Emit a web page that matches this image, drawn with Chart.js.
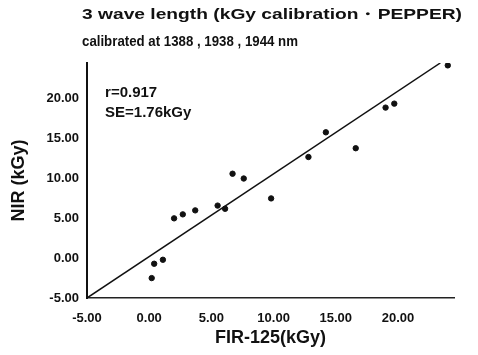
<!DOCTYPE html>
<html><head><meta charset="utf-8">
<script src="https://cdn.jsdelivr.net/npm/chart.js@4"></script>
<style>html,body{margin:0;padding:0;background:#fff}#wrap{width:478px;height:355px}</style>
</head><body><div id="wrap"><canvas id="c" width="478" height="355"></canvas></div>
<script>
const firValues = [0.2, 0.4, 1.1, 2.0, 2.7, 3.7, 5.5, 6.1, 6.7, 7.6, 9.8, 12.8, 14.2, 16.6, 19.0, 19.7, 24.0];
const nirValues = [-2.5, -0.7, -0.2, 5.0, 5.5, 6.0, 6.6, 6.2, 10.6, 10.0, 7.5, 12.7, 15.8, 13.8, 18.9, 19.4, 24.2];
const fitX = [-5, 23.4];
const fitY = [-5, 24.5];
const tickValues = [-5, 0, 5, 10, 15, 20];
const titleLines = ['3 wave length (kGy calibration\u30FBPEPPER)', 'calibrated at 1388 , 1938 , 1944 nm'];
const statLines = ['r=0.917', 'SE=1.76kGy'];
const xTitle = 'FIR-125(kGy)';
const yTitle = 'NIR (kGy)';

const FONT = '"Liberation Sans", Arial, sans-serif';
const pts = firValues.map((x, i) => ({x, y: nirValues[i]}));
const fit = fitX.map((x, i) => ({x, y: fitY[i]}));

function fitText(ctx, text, x, y, width) {
  const w = ctx.measureText(text).width;
  ctx.save();
  ctx.translate(x, y);
  ctx.scale(width / w, 1);
  ctx.fillText(text, 0, 0);
  ctx.restore();
}

const textPlugin = {
  id: 'texts',
  afterDraw(chart) {
    const ctx = chart.ctx, xs = chart.scales.x, ys = chart.scales.y;
    ctx.save();
    ctx.fillStyle = '#111';
    ctx.textBaseline = 'middle';
    ctx.textAlign = 'left';
    ctx.font = 'bold 15px ' + FONT;
    fitText(ctx, titleLines[0], 82, 15, 380);
    fitText(ctx, titleLines[1], 82, 42, 216);
    ctx.font = 'bold 15px ' + FONT;
    ctx.fillText(statLines[0], xs.getPixelForValue(-3.55), ys.getPixelForValue(20.7));
    ctx.fillText(statLines[1], xs.getPixelForValue(-3.55), ys.getPixelForValue(18.2));
    ctx.restore();
  }
};

new Chart(document.getElementById('c'), {
  type: 'scatter',
  data: {
    datasets: [
      {data: pts, backgroundColor: '#111', borderColor: '#111', pointRadius: 2.7, pointHoverRadius: 2.7},
      {type: 'line', data: fit, borderColor: '#111', borderWidth: 1.5, pointRadius: 0, fill: false, tension: 0}
    ]
  },
  options: {
    responsive: false,
    animation: false,
    events: [],
    layout: {padding: {top: 63, right: 24, left: 0, bottom: 0}},
    plugins: {legend: {display: false}, tooltip: {enabled: false}, title: {display: false}},
    scales: {
      x: {
        type: 'linear', min: -5, max: 24.5,
        afterBuildTicks(s) { s.ticks = tickValues.map(v => ({value: v})); },
        afterFit(s) { s.height = 57; },
        grid: {display: false, drawTicks: false},
        border: {display: true, color: '#222', width: 1.5, dash: [6, 3]},
        ticks: {color: '#111', font: {family: FONT, size: 13, weight: 'bold'}, padding: 13, callback: v => v.toFixed(2), maxRotation: 0},
        title: {display: true, text: xTitle, color: '#111', font: {family: FONT, size: 18, weight: 'bold'}, padding: {top: 2, bottom: 6}}
      },
      y: {
        type: 'linear', min: -5, max: 24.5,
        afterBuildTicks(s) { s.ticks = tickValues.map(v => ({value: v})); },
        afterFit(s) { s.width = 87; },
        grid: {display: false, drawTicks: false},
        border: {display: true, color: '#111', width: 2},
        ticks: {color: '#111', font: {family: FONT, size: 13, weight: 'bold'}, padding: 8, callback: v => v.toFixed(2)},
        title: {display: true, text: yTitle, color: '#111', font: {family: FONT, size: 18, weight: 'bold'}, padding: {top: 8, bottom: 4}}
      }
    }
  },
  plugins: [textPlugin]
});
</script>
</body></html>
